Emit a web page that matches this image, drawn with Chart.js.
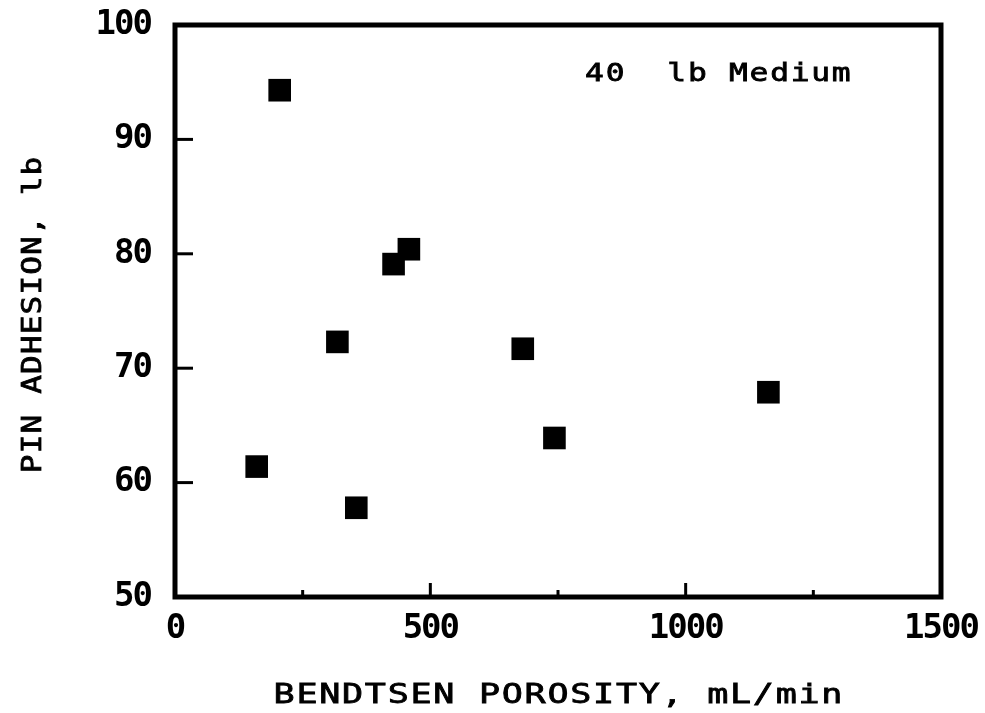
<!DOCTYPE html>
<html>
<head>
<meta charset="utf-8">
<title>Pin adhesion vs Bendtsen porosity</title>
<script src="https://cdn.jsdelivr.net/npm/chart.js@4.4.1/dist/chart.umd.min.js"></script>
<style>
  html, body { margin: 0; padding: 0; background: #fff; }
  #wrap { width: 985px; height: 713px; position: relative; }
</style>
</head>
<body>
<div id="wrap"><canvas id="plot"></canvas></div>
<script>
// 40 lb medium: porosity (mL/min) against pin adhesion (lb)
const porosity = [205, 160, 318, 355, 428, 458, 681, 743, 1162];
const adhesion = [94.3, 61.4, 72.3, 57.8, 79.1, 80.4, 71.7, 63.9, 67.9];

const xLabelled = [0, 500, 1000, 1500];
const xTitle = "BENDTSEN POROSITY, mL/min";
const yTitle = "PIN ADHESION, lb";
const noteText = "40  lb Medium";

const FONT = "'DejaVu Sans Mono', monospace";

function line(ctx, x1, y1, x2, y2) {
  ctx.beginPath();
  ctx.moveTo(x1, y1);
  ctx.lineTo(x2, y2);
  ctx.stroke();
}

// text stretched sideways so the mono glyphs read wider, like a plotter font
function wideText(ctx, text, x, y, sx, spacing, align) {
  ctx.save();
  ctx.letterSpacing = spacing + "px";
  ctx.textAlign = align;
  ctx.translate(x, y);
  ctx.scale(sx, 1);
  const shift = align === "center" ? spacing / 2 : 0;
  ctx.fillText(text, shift, 0);
  ctx.lineWidth = 0.8;
  ctx.strokeText(text, shift, 0);
  ctx.restore();
}

// box frame, inward tick marks, axis titles and the note
const framePlugin = {
  id: "frame",
  beforeDraw(chart) {
    // tighten the tick label font a little
    chart.ctx.letterSpacing = "-2px";
  },
  beforeDatasetsDraw(chart) {
    const { ctx, chartArea: a, scales: { x, y } } = chart;
    ctx.save();
    ctx.strokeStyle = "#000";
    ctx.lineWidth = 3;
    x.ticks.forEach(t => {
      const px = x.getPixelForValue(t.value);
      const len = t.value % 500 === 0 ? 14 : 7;
      line(ctx, px, a.bottom, px, a.bottom - len);
    });
    y.ticks.forEach(t => {
      const py = y.getPixelForValue(t.value);
      line(ctx, a.left, py, a.left + 18, py);
    });
    ctx.lineWidth = 5;
    ctx.strokeRect(a.left, a.top, a.right - a.left, a.bottom - a.top);
    ctx.restore();
  },
  afterDraw(chart) {
    const { ctx, chartArea: a, scales: { x, y } } = chart;
    ctx.save();
    ctx.fillStyle = "#000";
    ctx.strokeStyle = "#000";
    ctx.textBaseline = "alphabetic";

    // x title
    ctx.font = "27px " + FONT;
    wideText(ctx, xTitle, (a.left + a.right) / 2, 703, 1.3, 1.3, "center");

    // y title, rotated
    ctx.save();
    ctx.translate(41, (a.top + a.bottom) / 2 + 4);
    ctx.rotate(-Math.PI / 2);
    wideText(ctx, yTitle, 0, 0, 1.15, 1, "center");
    ctx.restore();

    // note in the upper right
    ctx.font = "25px " + FONT;
    wideText(ctx, noteText, x.getPixelForValue(803), y.getPixelForValue(95.1), 1.25, 1.4, "left");
    ctx.restore();
  }
};

new Chart(document.getElementById("plot"), {
  type: "scatter",
  data: {
    datasets: [{
      data: porosity.map((v, i) => ({ x: v, y: adhesion[i] })),
      pointStyle: "rect",
      pointRadius: 16,
      pointHoverRadius: 16,
      backgroundColor: "#000",
      borderWidth: 0
    }]
  },
  options: {
    responsive: true,
    maintainAspectRatio: false,
    animation: false,
    events: [],
    layout: { padding: { left: 0, top: 25, right: 44, bottom: 0 } },
    plugins: {
      legend: { display: false },
      tooltip: { enabled: false }
    },
    scales: {
      x: {
        type: "linear",
        min: 0,
        max: 1500,
        afterFit: s => {
          s.height = 116;
          s.paddingLeft = 0;
          s.paddingRight = 0;
        },
        grid: { display: false, drawTicks: false },
        border: { display: false },
        ticks: {
          stepSize: 250,
          autoSkip: false,
          maxRotation: 0,
          padding: 12,
          color: "#000",
          font: { family: FONT, size: 34, weight: "bold" },
          callback: v => xLabelled.includes(v) ? String(v) : ""
        }
      },
      y: {
        type: "linear",
        min: 50,
        max: 100,
        afterFit: s => {
          s.width = 175;
          s.paddingTop = 0;
          s.paddingBottom = 0;
        },
        grid: { display: false, drawTicks: false },
        border: { display: false },
        ticks: {
          stepSize: 10,
          padding: 24,
          color: "#000",
          font: { family: FONT, size: 34, weight: "bold" }
        }
      }
    }
  },
  plugins: [framePlugin]
});
</script>
</body>
</html>
